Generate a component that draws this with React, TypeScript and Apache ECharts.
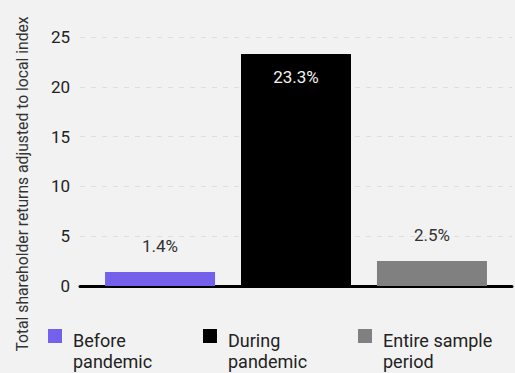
import { useEffect, useRef } from "react";
import * as echarts from "echarts";

const categories = ["Total"];
const seriesNames = ["Before\npandemic", "During\npandemic", "Entire sample\nperiod"];
const seriesValues = [1.4, 23.3, 2.5];
const seriesColors = ["#7361eb", "#000000", "#808080"];
const yTicks = [0, 5, 10, 15, 20, 25];
const yAxisTitle = "Total shareholder returns adjusted to local index";

const FONT = "Roboto, 'Noto Sans', sans-serif";
// square icon drawn at the top-left of a taller box, so it lines up with the first text line
const LEGEND_ICON = "path://M0,0h14v14h-14z M19.99,42.99h0.01v0.01h-0.01z";

export default function App() {
  const ref = useRef<HTMLDivElement>(null);
  useEffect(() => {
    if (!ref.current) return;
    const chart = echarts.init(ref.current, undefined, { renderer: "svg" });
    chart.setOption({
      animation: false,
      backgroundColor: "#f2f2f2",
      textStyle: { fontFamily: FONT },
      grid: { left: 80, right: 3, top: 37, bottom: 87 },
      graphic: [
        {
          type: "text",
          x: 22,
          y: 184,
          rotation: Math.PI / 2,
          style: {
            text: yAxisTitle,
            fontSize: 15.7,
            fontFamily: FONT,
            fill: "#333",
            align: "center",
            verticalAlign: "middle",
          },
        },
      ],
      legend: {
        left: 48,
        top: 329,
        padding: 0,
        itemWidth: 20,
        itemHeight: 43,
        itemGap: 0,
        icon: LEGEND_ICON,
        data: seriesNames,
        textStyle: {
          fontSize: 18,
          lineHeight: 21,
          color: "#222",
          fontFamily: FONT,
          width: 130,
        },
      },
      xAxis: {
        type: "category",
        data: categories,
        axisLine: { show: true, lineStyle: { color: "#000", width: 3 } },
        axisTick: { show: false },
        axisLabel: { show: false },
      },
      yAxis: {
        type: "value",
        min: yTicks[0],
        max: yTicks[yTicks.length - 1],
        interval: 5,
        axisLine: { show: false },
        axisTick: { show: false },
        axisLabel: { fontSize: 17, color: "#222", margin: 10, fontFamily: FONT },
        splitLine: { lineStyle: { color: "#dedede", type: [5, 6], width: 1 } },
      },
      series: seriesNames.map((name, i) => ({
        type: "bar",
        name,
        data: [seriesValues[i]],
        barWidth: 110,
        barGap: "23.6%",
        itemStyle: { color: seriesColors[i] },
        label: {
          show: true,
          formatter: (p: any) => `${p.value}%`,
          position: i === 1 ? "insideTop" : "top",
          distance: i === 1 ? 15 : 18,
          fontSize: 17,
          fontFamily: FONT,
          color: i === 1 ? "#f2f2f2" : "#333",
        },
      })),
    });
    return () => chart.dispose();
  }, []);
  return <div ref={ref} style={{ width: 515, height: 373, position: "absolute", left: 0, top: 0 }} />;
}
